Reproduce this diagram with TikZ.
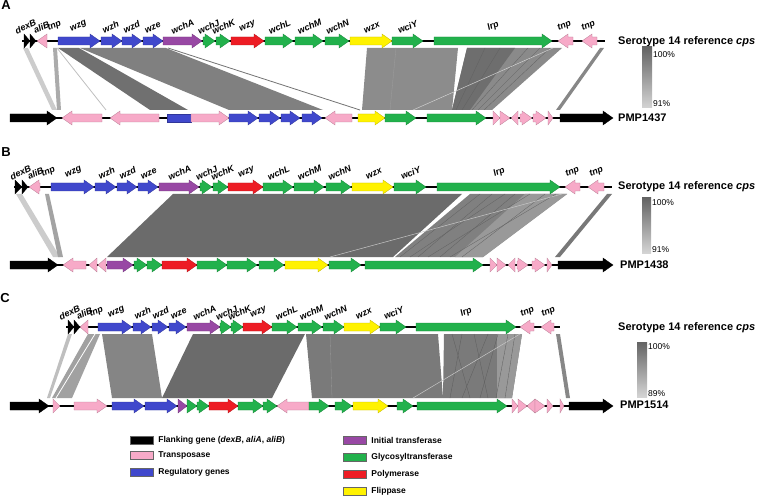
\documentclass[tikz,border=0pt]{standalone}
\usepackage{fontspec}
\setmainfont{Liberation Sans}
\definecolor{flank}{RGB}{0, 0, 0}
\definecolor{tnppink}{RGB}{247, 170, 200}
\definecolor{regblue}{RGB}{64, 72, 204}
\definecolor{initpurple}{RGB}{152, 72, 164}
\definecolor{glyco}{RGB}{34, 177, 76}
\definecolor{poly}{RGB}{237, 28, 36}
\definecolor{flip}{RGB}{255, 242, 0}
\definecolor{scaletop}{RGB}{100, 100, 100}
\definecolor{scalebot}{RGB}{212, 212, 212}
\usepackage{tikz}
\usetikzlibrary{positioning}

% one gene arrow: start, end (end < start points left), track y, colour
\newcommand{\cpsgene}[4]{%
  \pgfmathsetmacro{\glen}{#2-(#1)}%
  \pgfmathsetmacro{\ghead}{abs(\glen)>10 ? (\glen>0 ? 10 : -10) : \glen}%
  \filldraw[fill=#4, draw=#4!75!black, line width=0.3pt]
    (#1,#3-4) -- ({#2-\ghead},#3-4) -- ({#2-\ghead},#3-7) -- (#2,#3)
    -- ({#2-\ghead},#3+7) -- ({#2-\ghead},#3+4) -- (#1,#3+4) -- cycle;}

\begin{document}
\begin{tikzpicture}[x=1pt, y=-1pt,
  glabel/.style={rotate=24, anchor=south, inner sep=0pt, font=\fontsize{9}{9}\selectfont\bfseries\itshape},
  backbone/.style={line width=1.6pt, black},
  tracktitle/.style={anchor=west, inner sep=0pt, font=\fontsize{11}{13}\selectfont\bfseries},
  pct/.style={anchor=west, inner sep=0pt, font=\fontsize{8.5}{10}\selectfont},
  panel/.style={inner sep=0pt, font=\fontsize{13}{15}\selectfont\bfseries},
  legbox/.style={draw=black!60, line width=0.4pt, minimum width=23pt, minimum height=8pt, inner sep=0pt},
  legtext/.style={anchor=west, inner sep=0pt, font=\fontsize{8.5}{10}\selectfont\bfseries},
  scalebar/.style={top color=scaletop, bottom color=scalebot}
]
  \useasboundingbox (0,0) rectangle (760,497);

  % Panel A
  \node[panel] (panA) at (6,5) {A};
  \foreach \tl/\tr/\bl/\br/\c in {23/28/52/57/black!20, 53/57/57/61/black!33,
      58/79/150/188/black!56, 80/166/229/323/black!50, 367/458/362/452/black!45,
      467/562/452/492/black!46, 467/515/452/470/black!57, 600/604/556/560/black!47}
    \fill[fill=\c] (\tl,48) -- (\tr,48) -- (\br,110) -- (\bl,110) -- cycle;
  \draw[black!25, line width=0.8pt] (57,48) -- (106,110);
  \draw[black!55, line width=0.8pt] (168,48) -- (360,110);
  \draw[black!38, line width=0.3pt] (396,48) -- (390,110);
  \foreach \t/\b in {485/456, 500/462, 528/472, 540/478, 550/484}
    \draw[black!62, line width=0.3pt] (\t,48) -- (\b,110);
  \draw[black!18, line width=0.5pt] (553,48) -- (413,110);

  \draw[backbone] (22,41) -- (605,41);
  \foreach \s/\e/\c in {24/30/flank, 30/36/flank, 47/37/tnppink, 58/100/regblue,
      101/122/regblue, 122/142/regblue, 143/163/regblue, 163/202/initpurple,
      203/215/glyco, 216/230/glyco, 231/264/poly, 265/293/glyco, 295/323/glyco,
      325/349/glyco, 350/392/flip, 392/423/glyco, 434/552/glyco, 573/558/tnppink,
      597/582/tnppink}
    \cpsgene{\s}{\e}{41}{\c};
  \foreach \x/\t [count=\i] in {27/dexB, 43/aliB, 56/tnp, 80/wzg, 112/wzh, 133/wzd,
      154/wze, 184/wchA, 210/wchJ, 225/wchK, 249/wzy, 281/wchL, 311/wchM, 339/wchN,
      373/wzx, 409/wciY, 495/lrp, 566/tnp, 590/tnp}
    \node[glabel] (genA\i) at (\x,30) {\t};
  \node[tracktitle] (refA) at (618,42) {Serotype 14 reference \textit{cps}};

  \draw[backbone] (12,118) -- (612,118);
  \filldraw[fill=regblue, draw=regblue!75!black, line width=0.3pt] (167,114) rectangle (191,122);
  \foreach \s/\e/\c in {10/57/flank, 102/62/tnppink, 159/110/tnppink, 191/229/tnppink,
      229/258/regblue, 259/280/regblue, 281/300/regblue, 302/322/regblue,
      352/325/tnppink, 358/385/flip, 385/416/glyco, 427/486/glyco, 493/500/tnppink,
      500/510/tnppink, 518/511/tnppink, 520/532/tnppink, 533/546/tnppink,
      548/553/tnppink, 560/613/flank}
    \cpsgene{\s}{\e}{118}{\c};
  \node[tracktitle] (strA) at (618,118) {PMP1437};

  \shade[scalebar] (642,47) rectangle (652,108);
  \node[pct] (topA) at (653,55) {100\%};
  \node[pct] (botA) at (653,104) {91\%};

  % Panel B
  \node[panel] (panB) at (6,152) {B};
  \foreach \tl/\tr/\bl/\br/\c in {16/22/53/60/black!20, 45/49/58/63/black!36,
      173/462/107/393/black!58, 470/567/395/483/black!50, 525/567/455/483/black!40,
      607/612/555/560/black!53}
    \fill[fill=\c] (\tl,194) -- (\tr,194) -- (\br,257) -- (\bl,257) -- cycle;
  \foreach \t/\b in {480/400, 492/418, 505/410, 515/440, 530/428, 545/462, 556/450}
    \draw[black!62, line width=0.3pt] (\t,194) -- (\b,257);
  \draw[black!22, line width=0.5pt] (562,194) -- (330,257);

  \draw[backbone] (14,187) -- (612,187);
  \foreach \s/\e/\c in {15/22/flank, 22/28/flank, 40/29/tnppink, 51/94/regblue,
      95/116/regblue, 117/137/regblue, 138/158/regblue, 159/199/initpurple,
      200/212/glyco, 213/228/glyco, 228/263/poly, 263/293/glyco, 294/324/glyco,
      326/351/glyco, 352/393/flip, 394/426/glyco, 437/560/glyco, 580/565/tnppink,
      604/588/tnppink}
    \cpsgene{\s}{\e}{187}{\c};
  \foreach \x/\t [count=\i] in {22/dexB, 37/aliB, 50/tnp, 75/wzg, 108/wzh, 129/wzd,
      150/wze, 181/wchA, 208/wchJ, 224/wchK, 248/wzy, 280/wchL, 311/wchM, 341/wchN,
      375/wzx, 412/wciY, 501/lrp, 574/tnp, 598/tnp}
    \node[glabel] (genB\i) at (\x,176) {\t};
  \node[tracktitle] (refB) at (618,187) {Serotype 14 reference \textit{cps}};

  \draw[backbone] (12,265) -- (612,265);
  \foreach \s/\e/\c in {10/58/flank, 86/63/tnppink, 97/89/tnppink, 106/98/tnppink,
      107/133/initpurple, 134/147/glyco, 147/162/glyco, 162/197/poly, 197/227/glyco,
      227/257/glyco, 259/284/glyco, 285/328/flip, 329/361/glyco, 365/483/glyco,
      490/497/tnppink, 497/506/tnppink, 515/508/tnppink, 517/528/tnppink,
      532/545/tnppink, 547/552/tnppink, 558/613/flank}
    \cpsgene{\s}{\e}{265}{\c};
  \node[tracktitle] (strB) at (620,265) {PMP1438};

  \shade[scalebar] (642,198) rectangle (651,253);
  \node[pct] (topB) at (652,203) {100\%};
  \node[pct] (botB) at (652,250) {91\%};

  % Panel C
  \node[panel] (panC) at (5,298) {C};
  \foreach \tl/\tr/\bl/\br/\c in {68/72/47/50/black!25, 88/100/52/72/black!37,
      102/152/112/162/black!48, 193/305/162/272/black!58, 306/438/312/443/black!52,
      444/522/443/512/black!52, 497/522/497/512/black!40, 556/560/566/570/black!47}
    \fill[fill=\c] (\tl,334) -- (\tr,334) -- (\br,398) -- (\bl,398) -- cycle;
  \draw[white, line width=0.8pt] (95,334) -- (56,398);
  \draw[black!40, line width=0.3pt] (330,334) -- (332,398);
  \foreach \t/\b in {452/470, 462/450, 474/488, 488/462, 498/480, 508/496, 515/505}
    \draw[black!64, line width=0.3pt] (\t,334) -- (\b,398);
  \draw[black!22, line width=0.5pt] (520,334) -- (413,398);

  \draw[backbone] (66,327) -- (560,327);
  \foreach \s/\e/\c in {68/74/flank, 74/80/flank, 88/80/tnppink, 98/132/regblue,
      133/151/regblue, 152/168/regblue, 169/186/regblue, 187/220/initpurple,
      220/231/glyco, 231/243/glyco, 243/272/poly, 272/297/glyco, 298/322/glyco,
      323/344/glyco, 344/380/flip, 380/406/glyco, 416/516/glyco, 534/520/tnppink,
      554/541/tnppink}
    \cpsgene{\s}{\e}{327}{\c};
  \foreach \x/\t [count=\i] in {71/dexB, 86/aliB, 98/tnp, 118/wzg, 144/wzh, 162/wzd,
      180/wze, 206/wchA, 228/wchJ, 241/wchK, 260/wzy, 288/wchL, 313/wchM, 337/wchN,
      365/wzx, 395/wciY, 468/lrp, 529/tnp, 550/tnp}
    \node[glabel] (genC\i) at (\x,316) {\t};
  \node[tracktitle] (refC) at (618,328) {Serotype 14 reference \textit{cps}};

  \draw[backbone] (12,406) -- (612,406);
  \foreach \s/\e/\c in {10/49/flank, 53/60/tnppink, 74/107/tnppink, 112/144/regblue,
      145/177/regblue, 178/187/initpurple, 187/197/glyco, 197/209/glyco,
      209/238/poly, 238/263/glyco, 263/277/glyco, 309/277/tnppink, 309/329/glyco,
      335/352/glyco, 353/388/flip, 397/413/glyco, 417/507/glyco, 512/518/tnppink,
      518/527/tnppink, 535/527/tnppink, 535/545/tnppink, 547/553/tnppink,
      560/564/tnppink, 569/613/flank}
    \cpsgene{\s}{\e}{406}{\c};
  \node[tracktitle] (strC) at (620,405) {PMP1514};

  \shade[scalebar] (637,342) rectangle (647,397);
  \node[pct] (topC) at (648,347) {100\%};
  \node[pct] (botC) at (648,394) {89\%};

  % Legend
  \node[legbox, fill=flank] (keyflank) at (141.5,440) {};
  \node[legbox, fill=tnppink] (keytnp) at (141.5,455) {};
  \node[legbox, fill=regblue] (keyreg) at (141.5,472.5) {};
  \node[legbox, fill=initpurple] (keyinit) at (354.5,440) {};
  \node[legbox, fill=glyco] (keyglyco) at (354.5,457) {};
  \node[legbox, fill=poly] (keypoly) at (354.5,474) {};
  \node[legbox, fill=flip] (keyflip) at (354.5,491.5) {};
  \node[legtext, right=5pt of keyflank] (txtflank) {Flanking gene (\textit{dexB}, \textit{aliA}, \textit{aliB})};
  \node[legtext, right=5pt of keytnp] (txttnp) {Transposase};
  \node[legtext, right=5pt of keyreg] (txtreg) {Regulatory genes};
  \node[legtext, right=5pt of keyinit] (txtinit) {Initial transferase};
  \node[legtext, right=5pt of keyglyco] (txtglyco) {Glycosyltransferase};
  \node[legtext, right=5pt of keypoly] (txtpoly) {Polymerase};
  \node[legtext, right=5pt of keyflip] (txtflip) {Flippase};
\end{tikzpicture}
\end{document}
